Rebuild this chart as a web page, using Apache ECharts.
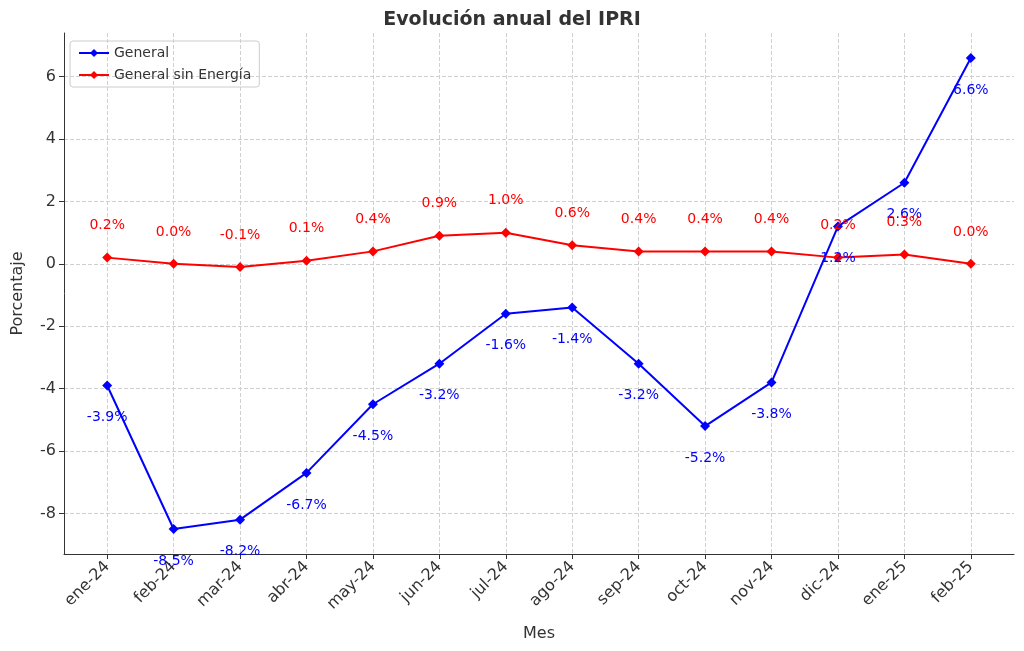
<!DOCTYPE html>
<html><head><meta charset="utf-8">
<script src="https://cdn.jsdelivr.net/npm/echarts@6/dist/echarts.min.js"></script>
<style>html,body{margin:0;padding:0;background:#fff}#c{width:1024px;height:651px}</style>
</head><body><div id="c"></div>
<script>
const categories=['ene-24','feb-24','mar-24','abr-24','may-24','jun-24','jul-24','ago-24','sep-24','oct-24','nov-24','dic-24','ene-25','feb-25'];
const general=[-3.9,-8.5,-8.2,-6.7,-4.5,-3.2,-1.6,-1.4,-3.2,-5.2,-3.8,1.2,2.6,6.6];
const sinEnergia=[0.2,0.0,-0.1,0.1,0.4,0.9,1.0,0.6,0.4,0.4,0.4,0.2,0.3,0.0];
const yTicks=[-8,-6,-4,-2,0,2,4,6];
const xIdx=categories.map((c,i)=>i);
const chart=echarts.init(document.getElementById('c'));
const font='DejaVu Sans';
function mk(name,vals,color,off){
  return {name,type:'line',data:vals.map((v,i)=>[i,v]),symbol:'diamond',symbolSize:10,
    itemStyle:{color},lineStyle:{color,width:2},
    label:{show:true,position:'inside',offset:[0,off],color,fontSize:14,fontFamily:font,formatter:p=>p.value[1].toFixed(1)+'%'}};
}
chart.setOption({
  animation:false,
  textStyle:{fontFamily:font},
  title:{text:'Evolución anual del IPRI',left:'center',top:6,textStyle:{fontSize:19,fontWeight:'bold',color:'#333',fontFamily:font}},
  legend:{left:70,top:41,orient:'vertical',itemGap:8,borderColor:'#ccc',borderWidth:1,borderRadius:3,padding:[5,8],
    textStyle:{fontSize:14,color:'#333'},itemWidth:30,itemHeight:10},
  grid:{left:64,right:10,top:33,bottom:97},
  xAxis:{type:'value',min:-0.65,max:13.65,name:'Mes',nameLocation:'middle',nameGap:72,
    nameTextStyle:{fontSize:16,color:'#333'},
    axisLine:{onZero:false,lineStyle:{color:'#333'}},
    axisTick:{show:true,customValues:xIdx,lineStyle:{color:'#333'}},
    axisLabel:{rotate:45,fontSize:16,color:'#333',margin:10,customValues:xIdx,formatter:v=>categories[Math.round(v)]},
    splitLine:{show:true,lineStyle:{type:'dashed',color:'#d0d0d0'}}},
  yAxis:{type:'value',min:-9.3,max:7.4,name:'Porcentaje',nameLocation:'middle',nameGap:38,
    nameTextStyle:{fontSize:16,color:'#333'},
    axisLine:{show:true,onZero:false,lineStyle:{color:'#333'}},
    axisTick:{show:true,customValues:yTicks,lineStyle:{color:'#333'}},
    axisLabel:{fontSize:16,color:'#333',customValues:yTicks,formatter:v=>String(Math.round(v))},
    splitLine:{show:true,lineStyle:{type:'dashed',color:'#d0d0d0'}}},
  series:[mk('General',general,'#0000ff',32),mk('General sin Energía',sinEnergia,'#ff0000',-32)]
});
</script></body></html>
